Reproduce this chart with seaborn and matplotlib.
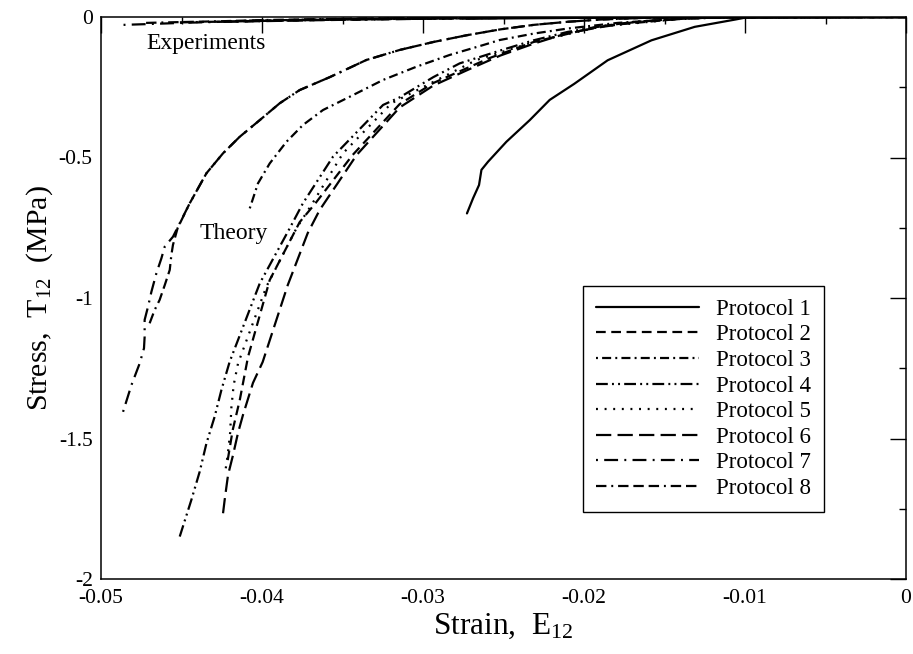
import numpy as np
import pandas as pd
import matplotlib
matplotlib.use("Agg")
import matplotlib.pyplot as plt
import seaborn as sns
from matplotlib.ticker import MultipleLocator

# ---------------- data ----------------
protocols = ["Protocol 1", "Protocol 2", "Protocol 3", "Protocol 4",
             "Protocol 5", "Protocol 6", "Protocol 7", "Protocol 8"]

# shared upper branch of protocols 7/8
env_x = [-0.04449, -0.04345, -0.04242, -0.04138, -0.04014, -0.03890, -0.03766,
         -0.03579, -0.03352, -0.03143, -0.02936, -0.02729, -0.02519, -0.02312,
         -0.02101, -0.01896, -0.01581, -0.0100, 0.0]
env_y = [-0.663, -0.556, -0.485, -0.426, -0.367, -0.307, -0.260,
         -0.214, -0.153, -0.117, -0.089, -0.065, -0.044, -0.028,
         -0.017, -0.009, -0.002, 0.0, 0.0]

theory_x_p1 = [-0.02727, -0.02689, -0.02652, -0.02637, -0.02596, -0.02482, -0.02337,
               -0.02213, -0.02061, -0.01853, -0.01581, -0.01312, -0.01060, -0.00996, 0.0]
theory_y_p1 = [-0.699, -0.645, -0.598, -0.544, -0.515, -0.444, -0.367,
               -0.295, -0.238, -0.154, -0.083, -0.035, -0.009, -0.002, 0.0]

theory_x_p2 = [-0.04213, -0.04182, -0.04138, -0.04087, -0.03952, -0.03766, -0.03667,
               -0.03437, -0.03145, -0.02936, -0.02586, -0.02313, -0.01896, -0.01374, -0.01064, 0.0]
theory_y_p2 = [-1.577, -1.470, -1.363, -1.210, -0.936, -0.730, -0.662,
               -0.491, -0.310, -0.235, -0.146, -0.089, -0.032, -0.005, 0.0, 0.0]

theory_x_p3 = [-0.04076, -0.04025, -0.03952, -0.03848, -0.03745, -0.03621, -0.03456,
               -0.03248, -0.03041, -0.02834, -0.02627, -0.02524, -0.02312, -0.02101,
               -0.01791, -0.01477, -0.01163, -0.0100, 0.0]
theory_y_p3 = [-0.681, -0.592, -0.521, -0.444, -0.384, -0.331, -0.284,
               -0.224, -0.177, -0.135, -0.100, -0.082, -0.059, -0.041,
               -0.021, -0.009, -0.002, 0.0, 0.0]

theory_x_p4 = [-0.04511, -0.04439, -0.04387, -0.04345, -0.04294, -0.04252, -0.04201,
               -0.04014, -0.03828, -0.03746, -0.03559, -0.03248, -0.03145, -0.02936,
               -0.02772, -0.02519, -0.02313, -0.02101, -0.01896, -0.01685, -0.01374, -0.01064, 0.0]
theory_y_p4 = [-1.849, -1.719, -1.618, -1.517, -1.422, -1.327, -1.227,
               -0.948, -0.752, -0.663, -0.497, -0.313, -0.286, -0.214,
               -0.165, -0.119, -0.083, -0.053, -0.033, -0.017, -0.005, 0.0, 0.0]

theory_x_p5 = [-0.04225, -0.04213, -0.04198, -0.04190, -0.04176, -0.04149, -0.03973,
               -0.03786, -0.03693, -0.03497, -0.03196, -0.02936, -0.02668, -0.02313,
               -0.01896, -0.01374, -0.01064, 0.0]
theory_y_p5 = [-1.606, -1.559, -1.480, -1.388, -1.310, -1.233, -0.960,
               -0.752, -0.669, -0.485, -0.307, -0.231, -0.153, -0.089,
               -0.034, -0.005, 0.0, 0.0]

theory_x_p6 = [-0.04242, -0.04232, -0.04211, -0.04180, -0.04149, -0.04118, -0.04056,
               -0.03996, -0.03840, -0.03716, -0.03642, -0.03412, -0.03145, -0.02936,
               -0.02729, -0.02519, -0.02313, -0.02101, -0.01896, -0.01685, -0.01374, -0.01064, 0.0]
theory_y_p6 = [-1.766, -1.719, -1.630, -1.559, -1.480, -1.416, -1.302,
               -1.228, -0.954, -0.769, -0.687, -0.491, -0.322, -0.244,
               -0.190, -0.137, -0.095, -0.057, -0.036, -0.018, -0.005, 0.0, 0.0]

theory_x_p7 = [-0.04863, -0.04811, -0.04760, -0.04733, -0.04729, -0.04729, -0.04708,
               -0.04687, -0.04656, -0.04625, -0.04604, -0.04553] + env_x
theory_y_p7 = [-1.405, -1.310, -1.233, -1.179, -1.138, -1.078, -1.031,
               -0.978, -0.912, -0.859, -0.817, -0.782] + env_y

theory_x_p8 = [-0.04698, -0.04667, -0.04636, -0.04604, -0.04573, -0.04563, -0.04553,
               -0.04524] + env_x
theory_y_p8 = [-1.090, -1.043, -1.007, -0.954, -0.900, -0.847, -0.811,
               -0.751] + env_y

# experimental curves (hug the zero line)
exp_x_p1 = [-0.0273, -0.0250, -0.0220, -0.0180, -0.0140, 0.0]
exp_y_p1 = [-0.006, -0.005, -0.004, -0.002, -0.001, 0.0]
exp_x_p2 = [-0.0421, -0.0400, -0.0370, -0.0330, -0.0280, -0.0220, 0.0]
exp_y_p2 = [-0.016, -0.014, -0.011, -0.008, -0.005, -0.002, 0.0]
exp_x_p3 = [-0.0408, -0.0385, -0.0355, -0.0320, -0.0270, -0.0210, 0.0]
exp_y_p3 = [-0.013, -0.011, -0.009, -0.006, -0.004, -0.001, 0.0]
exp_x_p4 = [-0.0451, -0.0430, -0.0400, -0.0365, -0.0320, -0.0260, 0.0]
exp_y_p4 = [-0.019, -0.017, -0.014, -0.010, -0.007, -0.003, 0.0]
exp_x_p5 = [-0.0422, -0.0400, -0.0370, -0.0335, -0.0290, -0.0230, 0.0]
exp_y_p5 = [-0.015, -0.013, -0.011, -0.008, -0.005, -0.002, 0.0]
exp_x_p6 = [-0.0424, -0.0402, -0.0372, -0.0338, -0.0292, -0.0230, 0.0]
exp_y_p6 = [-0.017, -0.015, -0.012, -0.009, -0.006, -0.002, 0.0]
exp_x_p7 = [-0.0486, -0.0470, -0.0450, -0.0425, -0.0400, -0.0370, -0.0330, -0.0280, 0.0]
exp_y_p7 = [-0.028, -0.025, -0.021, -0.017, -0.013, -0.009, -0.005, -0.002, 0.0]
exp_x_p8 = [-0.0472, -0.0450, -0.0425, -0.0400, -0.0370, -0.0330, -0.0280, 0.0]
exp_y_p8 = [-0.021, -0.018, -0.015, -0.011, -0.008, -0.005, -0.002, 0.0]

x_ticks = [-0.05, -0.04, -0.03, -0.02, -0.01, 0.0]
x_tick_labels = ["-0.05", "-0.04", "-0.03", "-0.02", "-0.01", "0"]
y_ticks = [-2.0, -1.5, -1.0, -0.5, 0.0]
y_tick_labels = ["-2", "-1.5", "-1", "-0.5", "0"]

theory = [(theory_x_p1, theory_y_p1), (theory_x_p2, theory_y_p2), (theory_x_p3, theory_y_p3),
          (theory_x_p4, theory_y_p4), (theory_x_p5, theory_y_p5), (theory_x_p6, theory_y_p6),
          (theory_x_p7, theory_y_p7), (theory_x_p8, theory_y_p8)]
experiments = [(exp_x_p1, exp_y_p1), (exp_x_p2, exp_y_p2), (exp_x_p3, exp_y_p3),
               (exp_x_p4, exp_y_p4), (exp_x_p5, exp_y_p5), (exp_x_p6, exp_y_p6),
               (exp_x_p7, exp_y_p7), (exp_x_p8, exp_y_p8)]

# dash patterns (points, on/off)
dash_styles = [None,
               (7.0, 4.0),
               (1.4, 3.0, 6.5, 3.0),
               (8.5, 3.0, 1.4, 3.0, 1.4, 3.0),
               (1.4, 4.8),
               (11.0, 4.5),
               (1.4, 4.5, 10.0, 4.5),
               (7.5, 3.5, 1.4, 3.5, 7.5, 3.5, 7.5, 3.5)]

# ---------------- style ----------------
sns.set_theme(style="white")
plt.rcParams["font.family"] = ["Liberation Serif", "DejaVu Serif"]
plt.rcParams["mathtext.fontset"] = "custom"
plt.rcParams["mathtext.rm"] = "Liberation Serif"
plt.rcParams["mathtext.it"] = "Liberation Serif:italic"
plt.rcParams["lines.scale_dashes"] = False

fig = plt.figure(figsize=(9.13, 6.54), dpi=100)
ax = fig.add_axes([101 / 913, 1 - 579 / 654, 805 / 913, 562 / 654])

handles = []
for i, name in enumerate(protocols):
    tx, ty = theory[i]
    ex, ey = experiments[i]
    kw = dict(color="black", linewidth=1.6, sort=False, estimator=None)
    if dash_styles[i] is not None:
        kw["dashes"] = dash_styles[i]
    sns.lineplot(x=ex, y=ey, ax=ax, **kw)
    sns.lineplot(x=tx, y=ty, ax=ax, **kw)
    handles.append(ax.get_lines()[-1])

ax.set_xlim(-0.05, 0.0)
ax.set_ylim(-2.0, 0.0)
ax.set_xticks(x_ticks)
ax.set_xticklabels(x_tick_labels)
ax.set_yticks(y_ticks)
ax.set_yticklabels(y_tick_labels)
ax.xaxis.set_minor_locator(MultipleLocator(0.005))
ax.yaxis.set_minor_locator(MultipleLocator(0.25))
ax.tick_params(which="both", direction="in", top=True, right=True, color="black",
               width=1.0, labelsize=15.5, labelcolor="black")
ax.tick_params(which="major", length=11.5)
ax.tick_params(which="minor", length=5)
ax.tick_params(axis="x", which="major", pad=7)
ax.tick_params(axis="y", which="major", pad=6)
for s in ax.spines.values():
    s.set_visible(True)
    s.set_color("black")
    s.set_linewidth(1.1)

ax.set_xlabel(r"Strain,  E$_{\mathrm{12}}$", fontsize=22.5, color="black", labelpad=3)
ax.set_ylabel(r"Stress,  T$_{\mathrm{12}}$  (MPa)", fontsize=21.5, color="black", labelpad=3)

ax.text(-0.04718, -0.096, "Experiments", fontsize=17, va="center", ha="left", color="black")
ax.text(-0.04386, -0.769, "Theory", fontsize=17, va="center", ha="left", color="black")

leg = ax.legend(handles, protocols, loc="upper left",
                bbox_to_anchor=((583 - 101) / 805, (579 - 286) / 562),
                prop={"size": 16.5}, frameon=True, fancybox=False, handlelength=4.5,
                handletextpad=0.75, labelspacing=0.2, borderpad=0.55, borderaxespad=0)
leg.get_frame().set_edgecolor("black")
leg.get_frame().set_linewidth(1.0)
leg.get_frame().set_facecolor("white")
leg.get_frame().set_alpha(1.0)
for t in leg.get_texts():
    t.set_color("black")

fig.savefig("out.png", dpi=100, facecolor="white")
